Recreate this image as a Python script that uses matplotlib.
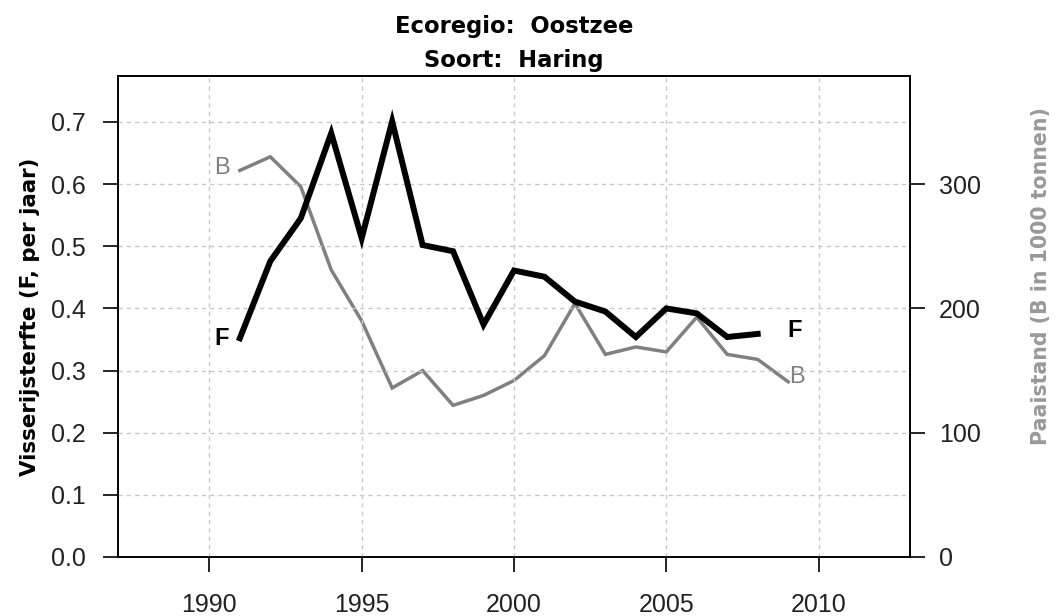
import matplotlib
matplotlib.use("Agg")
import matplotlib.pyplot as plt

# --- data ---
years_f = [1991, 1992, 1993, 1994, 1995, 1996, 1997, 1998, 1999, 2000,
           2001, 2002, 2003, 2004, 2005, 2006, 2007, 2008]
f_values = [0.352, 0.476, 0.545, 0.682, 0.513, 0.701, 0.502, 0.492, 0.374, 0.461,
            0.451, 0.411, 0.395, 0.354, 0.400, 0.392, 0.354, 0.359]

years_b = [1991, 1992, 1993, 1994, 1995, 1996, 1997, 1998, 1999, 2000,
           2001, 2002, 2003, 2004, 2005, 2006, 2007, 2008, 2009]
b_values = [311, 322, 298, 231, 190, 136, 150, 122, 130, 142,
            162, 204, 163, 169, 165, 193, 163, 159, 141]

x_ticks = [1990, 1995, 2000, 2005, 2010]
f_ticks = [0.0, 0.1, 0.2, 0.3, 0.4, 0.5, 0.6, 0.7]
b_ticks = [0, 100, 200, 300]

title_lines = ["Ecoregio:  Oostzee", "Soort:  Haring"]
ylabel_left = "Visserijsterfte (F, per jaar)"
ylabel_right = "Paaistand (B in 1000 tonnen)"

GRAY = "#808080"
plt.rcParams["font.family"] = ["Liberation Sans", "DejaVu Sans"]
WIDE = ["DejaVu Sans"]

fig = plt.figure(figsize=(10.58, 6.16), dpi=100)
ax = fig.add_axes([118 / 1058, 1 - 557 / 616, (910 - 118) / 1058, (557 - 76) / 616])
ax2 = ax.twinx()

f_top = 0.774
ax.set_xlim(1987, 2013)
ax.set_ylim(0, f_top)
ax2.set_ylim(0, f_top * 500)

# grid
for x in x_ticks:
    ax.axvline(x, color="#c8c8c8", lw=1, ls=(0, (3, 3)), zorder=0)
for y in f_ticks[1:]:
    ax.axhline(y, color="#c8c8c8", lw=1, ls=(0, (3, 3)), zorder=0)

ax2.plot(years_b, b_values, color=GRAY, lw=2.5, solid_joinstyle="miter", zorder=2)
ax.plot(years_f, f_values, color="black", lw=4.3, solid_joinstyle="miter", zorder=3)
ax.set_zorder(ax2.get_zorder() + 1)
ax.patch.set_visible(False)

# series labels at the line ends
ax.text(1990.4, f_values[0], "F", fontsize=17, fontweight="bold", ha="center", va="center")
ax.text(2009.2, f_values[-1] + 0.006, "F", fontsize=17, fontweight="bold", ha="center", va="center")
ax2.text(1990.4, b_values[0] + 2, "B", fontsize=17, color=GRAY, ha="center", va="center")
ax2.text(2009.3, b_values[-1] + 4, "B", fontsize=17, color=GRAY, ha="center", va="center")

tick_color = "#222222"
ax.set_xticks(x_ticks)
ax.set_xticklabels([str(x) for x in x_ticks])
ax.set_yticks(f_ticks)
ax.set_yticklabels([f"{v:.1f}" for v in f_ticks])
ax2.set_yticks(b_ticks)
ax2.set_yticklabels([str(v) for v in b_ticks])

ax.tick_params(axis="x", length=11, width=1.2, pad=15, labelsize=18, labelcolor=tick_color)
ax.tick_params(axis="y", length=11, width=1.2, pad=12, labelsize=18, labelcolor=tick_color)
ax2.tick_params(axis="y", length=11, width=1.2, pad=10, labelsize=18, labelcolor=tick_color)

for a in (ax, ax2):
    for s in a.spines.values():
        s.set_linewidth(1.2)

ax.set_ylabel(ylabel_left, fontsize=15.4, fontweight="bold", family=WIDE)
ax.yaxis.set_label_coords(-0.098, 0.5)
ax2.set_ylabel(ylabel_right, fontsize=14.8, fontweight="bold", color="#999999",
               rotation=90, family=WIDE)
ax2.yaxis.set_label_coords(1.153, 0.585)

fig.text(514 / 1058, 1 - 27 / 616, title_lines[0], fontsize=16.3, fontweight="bold",
         ha="center", va="center", family=WIDE)
fig.text(514 / 1058, 1 - 60 / 616, title_lines[1], fontsize=16.3, fontweight="bold",
         ha="center", va="center", family=WIDE)

fig.savefig("out.png", dpi=100)
